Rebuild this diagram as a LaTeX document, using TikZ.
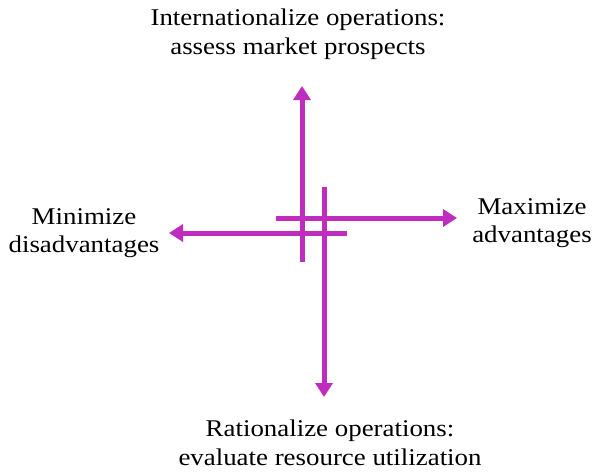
\documentclass[tikz,border=0pt]{standalone}
\usepackage{fontspec}
\setmainfont{Liberation Serif}[FakeStretch=1.12]
\usetikzlibrary{arrows.meta}
\definecolor{axispink}{RGB}{190,45,190}

\begin{document}
\begin{tikzpicture}[x=1pt, y=-1pt,
    axis/.style={draw=axispink, line width=5pt, -{Triangle[length=14pt, width=17pt]}},
    lbl/.style={align=center, font=\fontsize{24}{28.5}\selectfont, inner sep=0pt}
]
    \useasboundingbox (0,0) rectangle (596,472);

    % labels
    \node[lbl] (top) at (298,34) {Internationalize operations:\\assess market prospects};
    \node[lbl] (bottom) at (330,443) {Rationalize operations:\\evaluate resource utilization};
    \node[lbl] (left) at (84,233) {Minimize\\disadvantages};
    \node[lbl] (right) at (532,223) {Maximize\\advantages};

    % ends of the arrows
    \coordinate (upS) at (302,262);
    \coordinate (upE) at (302,86);
    \coordinate (downS) at (324,187);
    \coordinate (downE) at (324,397);
    \coordinate (rightS) at (276,218);
    \coordinate (rightE) at (457,218);
    \coordinate (leftS) at (347,233);
    \coordinate (leftE) at (169,233);

    \draw[axis] (upS) -- (upE);
    \draw[axis] (downS) -- (downE);
    \draw[axis] (rightS) -- (rightE);
    \draw[axis] (leftS) -- (leftE);
\end{tikzpicture}
\end{document}
